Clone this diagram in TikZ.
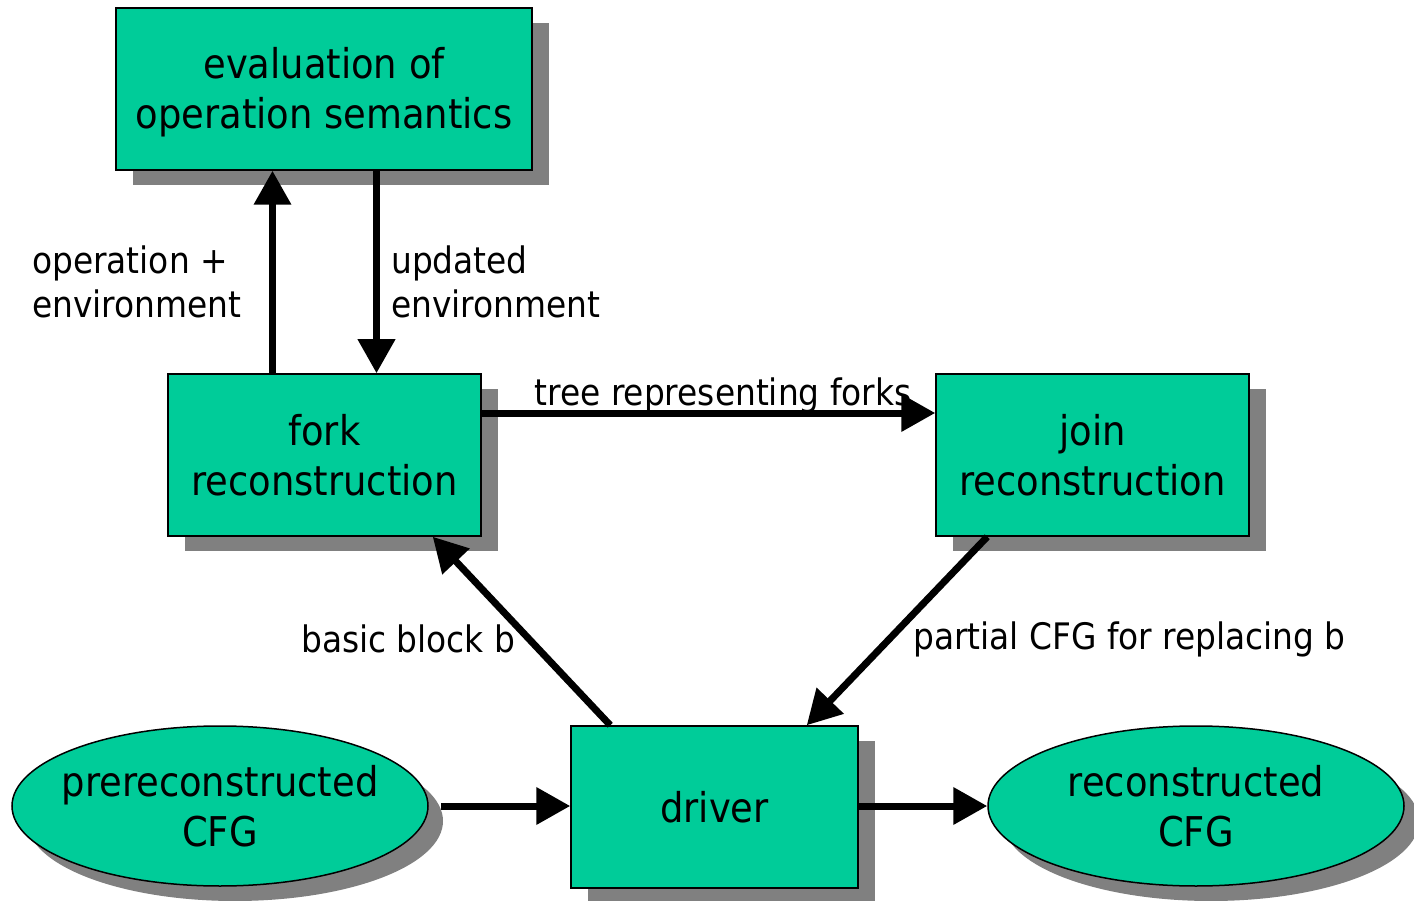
\documentclass[tikz,border=0pt]{standalone}
\usepackage{fontspec}
\setmainfont{DejaVu Sans Condensed}
\usetikzlibrary{shapes.geometric,shadows,arrows.meta}
\definecolor{boxgreen}{HTML}{00CC99}
\definecolor{shadowgray}{HTML}{808080}
\tikzset{
  procbox/.style={rectangle, draw=black, line width=1.5pt, fill=boxgreen, align=center,
    font=\fontsize{41}{50}\selectfont, inner sep=0pt,
    general shadow={fill=shadowgray, shadow xshift=17pt, shadow yshift=-15pt}},
  dataell/.style={ellipse, draw=black, line width=1.5pt, fill=boxgreen, align=center,
    font=\fontsize{41}{50}\selectfont, inner xsep=-30pt, inner ysep=0pt, minimum width=416pt, minimum height=160pt,
    general shadow={fill=shadowgray, shadow xshift=15pt, shadow yshift=-15pt}},
  lbl/.style={font=\fontsize{36.5}{44}\selectfont, align=left, inner sep=0pt},
  flow/.style={line width=7pt, -{Triangle[length=34pt,width=36pt]}}
}
\begin{document}
\begin{tikzpicture}[x=1pt,y=-1pt]
\useasboundingbox[fill=white] (0,0) rectangle (1414,901);
\node[procbox, minimum width=416pt, minimum height=162pt] (eval) at (324,89) {\raisebox{-5pt}[\height][\depth]{\begin{tabular}{@{}c@{}}evaluation of\\operation semantics\end{tabular}}};
\node[procbox, minimum width=313pt, minimum height=162pt] (fork) at (324.5,455) {fork\\reconstruction};
\node[procbox, minimum width=313pt, minimum height=162pt] (join) at (1092.5,455) {join\\reconstruction};
\node[procbox, minimum width=287pt, minimum height=162pt] (driver) at (714.5,807) {driver};
\node[dataell] (pre) at (220,806) {prereconstructed\\CFG};
\node[dataell] (rec) at (1196,806) {reconstructed\\CFG};

\node[lbl, anchor=west] (l1) at (32,282) {operation +\\environment};
\node[lbl, anchor=west] (l2) at (391,282) {updated\\environment};
\node[lbl] (l3) at (723,395) {tree representing forks};
\node[lbl, anchor=west] (l4) at (301,639) {basic block b};
\node[lbl, anchor=west] (l5) at (913,639) {partial CFG for replacing b};

\draw[flow] ([xshift=-52pt]fork.north) -- ([xshift=-52pt]fork.north |- eval.south);
\draw[flow] ([xshift=52pt]fork.north |- eval.south) -- ([xshift=52pt]fork.north);
\draw[flow] ([yshift=42pt]fork.east) -- ([yshift=42pt]fork.east -| join.west);
\draw[flow] ([xshift=52pt]join.south west) -- ([xshift=-52pt]driver.north east);
\draw[flow] ([xshift=40pt]driver.north west) -- ([xshift=-49pt]fork.south east);
\draw[flow] ([xshift=12pt]pre.east) -- (pre.east -| driver.west);
\draw[flow] (driver.east |- rec.west) -- (rec.west);
\end{tikzpicture}
\end{document}
